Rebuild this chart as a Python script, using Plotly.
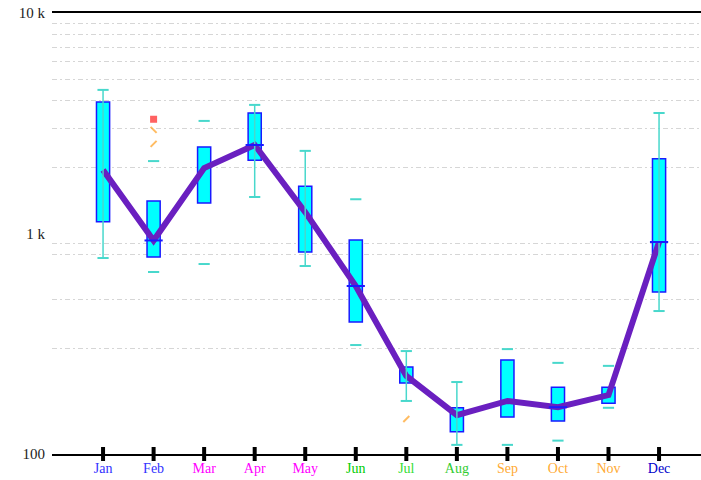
import plotly.graph_objects as go

# months / tick labels
months = ["Jan", "Feb", "Mar", "Apr", "May", "Jun", "Jul", "Aug", "Sep", "Oct", "Nov", "Dec"]
month_colors = ["#3333ff", "#3333ff", "#ff00ff", "#ff00ff", "#ff00ff", "#00cc00",
                "#33dd33", "#33cc33", "#ffaa33", "#ffaa33", "#ffaa33", "#0000cc"]

# box statistics
whisker_hi = [4480, 2130, 3240, 3830, 2370, 1430, 293, 212, 299, 259, 251, 3520]
q3 = [3950, 1405, 2470, 3520, 1640, 934, 248, 162, 267, 201, 201, 2180]
median = [1940, 930, 1980, 2520, 1250, 578, 226, 150, 174, 163, 185, 915]
q1 = [1130, 782, 1375, 2150, 824, 397, 210, 126, 147, 141, 170, 543]
whisker_lo = [774, 669, 727, 1464, 712, 312, 174, 110, 110, 115, 162, 445]

# which months show the whisker stems / a median bar
has_stem = [1, 0, 0, 1, 1, 0, 1, 1, 0, 0, 0, 1]
has_median = [0, 1, 0, 1, 0, 1, 0, 0, 0, 1, 0, 1]

# stray points
out_month = [1, 1, 1, 6]
out_value = [3300, 2950, 2550, 144]
out_color = ["#ff2020", "#ffa020", "#ffa020", "#ffa020"]
out_symbol = ["square", "line-nw", "line-ne", "line-ne"]
out_size = [5, 6, 6, 6]

grid_vals = [300, 500, 800, 900, 2000, 3000, 4000, 5000, 6000, 7000, 8000, 9000]

x = list(range(len(months)))

fig = go.Figure()

# trend through the medians
fig.add_trace(go.Scatter(x=x, y=median, mode="lines",
                         line=dict(color="#6a1fc0", width=6), hoverinfo="skip"))

# whisker stems
sx, sy = [], []
for i in x:
    if has_stem[i]:
        sx += [i, i, None]
        sy += [whisker_lo[i], whisker_hi[i], None]
fig.add_trace(go.Scatter(x=sx, y=sy, mode="lines",
                         line=dict(color="#48d8cc", width=1.5), hoverinfo="skip"))

# boxes
fig.add_trace(go.Bar(x=x, y=[h - l for h, l in zip(q3, q1)], base=q1, width=0.26,
                     marker=dict(color="#00ffff", line=dict(color="#1a1aff", width=1.5))))

# median bars
mx = [i for i in x if has_median[i]]
fig.add_trace(go.Scatter(x=mx, y=[median[i] for i in mx], mode="markers",
                         marker=dict(symbol="line-ew", size=13,
                                     line=dict(color="#1a1aff", width=2))))

# caps
fig.add_trace(go.Scatter(x=x + x, y=whisker_lo + whisker_hi, mode="markers",
                         marker=dict(symbol="line-ew", size=8,
                                     line=dict(color="#48d8cc", width=2))))

# stray points
fig.add_trace(go.Scatter(x=out_month, y=out_value, mode="markers",
                         marker=dict(symbol=out_symbol, size=out_size, color=out_color,
                                     line=dict(color=out_color, width=2))))

# month tick blocks on the axis
fig.add_trace(go.Scatter(x=x, y=[100] * len(x), mode="markers", cliponaxis=False,
                         marker=dict(symbol="line-ns", size=10,
                                     line=dict(color="black", width=4))))

fig.update_layout(
    width=701, height=480, autosize=False,
    margin=dict(l=52, r=0, t=13, b=26),
    showlegend=False,
    plot_bgcolor="white", paper_bgcolor="white",
    font=dict(family="Liberation Serif", size=14, color="black"),
    barmode="overlay",
    xaxis=dict(
        range=[-1.01, 11.83], tickmode="array", tickvals=x,
        ticktext=[f'<span style="color:{c}">{m}</span>' for m, c in zip(months, month_colors)],
        showgrid=False, zeroline=False,
        showline=True, linecolor="black", linewidth=2, mirror=True,
        ticks="",
    ),
    yaxis=dict(
        type="log", range=[2, 4],
        tickmode="array", tickvals=[100, 1000, 10000], ticktext=["100", "1 k", "10 k"],
        tickfont=dict(color="#222", size=15), ticklabelstandoff=6,
        showgrid=False, zeroline=False, showline=False, ticks="",
        minor=dict(tickmode="array", tickvals=grid_vals, showgrid=True,
                   gridcolor="#d6d6d6", gridwidth=1, griddash="5px,3px,2px,3px", ticks=""),
    ),
)

fig.write_html("out.html", config={"displayModeBar": False},
               post_script="document.body.style.margin='0';document.body.style.overflow='hidden';")
